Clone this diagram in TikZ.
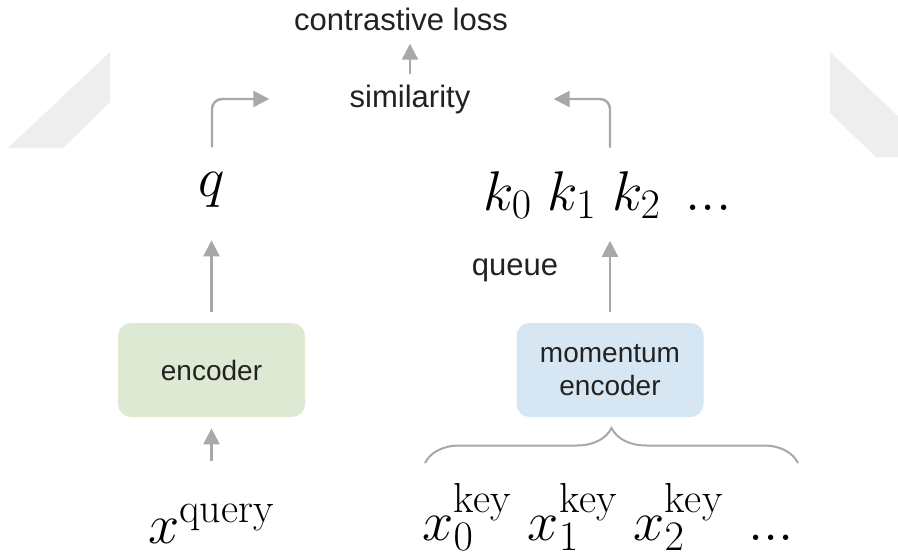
\documentclass[tikz,border=0pt]{standalone}
\usepackage{fix-cm}
\usepackage{fontspec}
\newfontfamily\labelfont{Liberation Sans}
\DeclareMathSizes{28}{28}{21}{15}
\usepackage{tikz}
\usetikzlibrary{arrows.meta,decorations.pathreplacing}
\definecolor{ink}{HTML}{222222}
\definecolor{arrowgray}{HTML}{A8A8A8}
\definecolor{encgreen}{HTML}{DEE9D4}
\definecolor{encblue}{HTML}{D6E6F2}
\definecolor{bandgray}{HTML}{EEEEEE}

\begin{document}
\begin{tikzpicture}[
  x=0.5pt,y=-0.5pt,
  lbl/.style={font=\labelfont\fontsize{15.5}{18}\selectfont,text=ink,inner sep=5pt},
  sym/.style={font=\fontsize{28}{32}\selectfont,text=black,inner sep=0pt},
  box/.style={rounded corners=6.5pt,align=center,minimum width=93.5pt,minimum height=47pt,font=\labelfont\fontsize{14}{16.5}\selectfont,text=ink},
  arrow/.style={-{Triangle[length=8pt,width=8pt]},draw=arrowgray,line width=1.2pt},
  brc/.style={draw=arrowgray,line width=1pt,decorate,decoration={brace,amplitude=17.5pt}}
]
\fill[white] (0,0) rectangle (898,558);
\useasboundingbox (0,0) rectangle (898,558);

% faint bands behind the picture
\fill[bandgray] (8,148) -- (110,52) -- (110,102) -- (63,148) -- cycle;
\fill[bandgray] (830,52) -- (898,116) -- (898,157) -- (876,157) -- (830,113) -- cycle;

% labels
\node[lbl,anchor=base] (loss) at (401,30) {contrastive loss};
\node[lbl,anchor=base] (sim) at (410,107) {similarity};
\node[sym,anchor=base] (q) at (212,196) {$q$};
\node[sym,anchor=base west] (keys) at (483,210) {$k_0\;k_1\;k_2\;\,...$};
\node[lbl,anchor=base] (queue) at (515,275) {queue};

% encoders
\node[box,fill=encgreen] (enc) at (211.5,370) {encoder};
\node[box,fill=encblue] (menc) at (610,370) {momentum\\encoder};

% inputs
\node[sym,anchor=base] (xq) at (211.5,543) {$x^{\mathrm{query}}$};
\node[sym,anchor=base west] (xk) at (422,540) {$x_0^{\mathrm{key}}\;x_1^{\mathrm{key}}\;x_2^{\mathrm{key}}\;\,...$};

\coordinate (simL) at ([xshift=-35pt]sim.west);
\coordinate (simR) at ([xshift=36.5pt]sim.east);
\coordinate (ktop) at (menc.north |- keys.north);
\coordinate (bl) at (425,463);
\coordinate (br) at (798,463);

\draw[arrow,shorten >=1.5pt] (sim.north) -- (sim.north |- loss.south);
\draw[arrow,rounded corners=5pt] ([yshift=12pt]q.north) |- (simL);
\draw[arrow,rounded corners=5pt] ([yshift=11.5pt]ktop) |- (simR);
\draw[arrow,shorten <=5.5pt,shorten >=16.5pt] (enc.north) -- (enc.north |- q.south);
\draw[arrow,shorten <=5.5pt,shorten >=11pt] (menc.north) -- (menc.north |- keys.south);
\draw[arrow,shorten <=21.5pt,shorten >=5.5pt] (xq.north) -- (xq.north |- enc.south);
\draw[brc] (bl) -- (br);
\end{tikzpicture}
\end{document}
